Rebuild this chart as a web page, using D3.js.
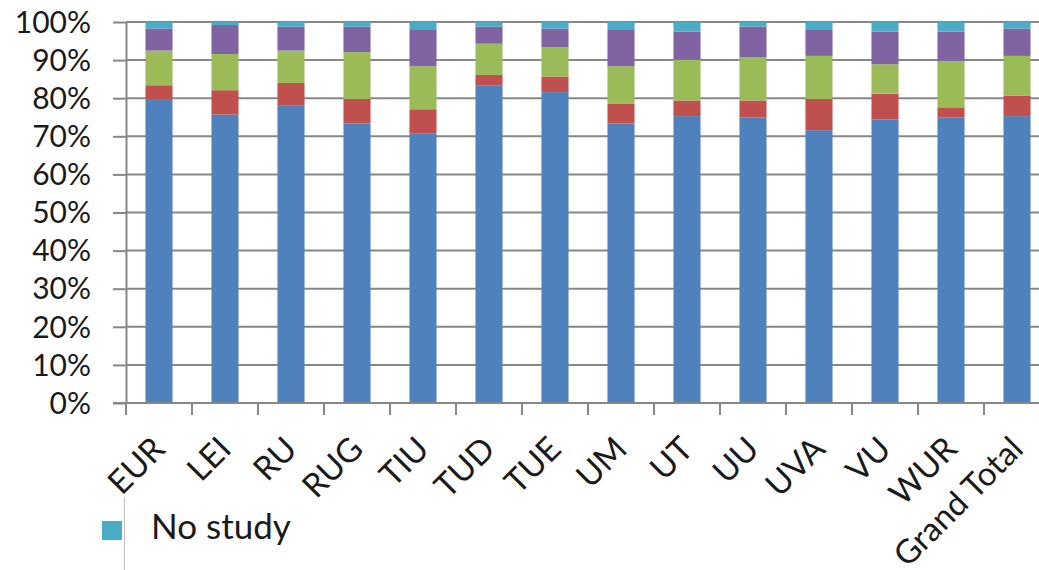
<!DOCTYPE html>
<html>
<head>
<meta charset="utf-8">
<script src="https://cdn.jsdelivr.net/npm/d3@7"></script>
<style>
  html, body { margin: 0; padding: 0; background: #fff; }
  svg { display: block; }
  text { font-family: Lato, "Liberation Sans", sans-serif; fill: #1a1a1a; }
</style>
</head>
<body>
<svg id="chart" width="1039" height="570"></svg>
<script>
// ---- data (percent of each bar) ----
const categories = ["EUR","LEI","RU","RUG","TIU","TUD","TUE","UM","UT","UU","UVA","VU","WUR","Grand Total"];
const series1 = [79.8, 75.7, 78.0, 73.4, 70.8, 83.4, 81.6, 73.4, 75.3, 74.9, 71.6, 74.4, 74.9, 75.3]; // blue
const series2 = [ 3.6,  6.4,  6.0,  6.4,  6.3,  2.7,  4.1,  5.1,  4.1,  4.5,  8.2,  6.8,  2.7,  5.4]; // red
const series3 = [ 9.1,  9.5,  8.5, 12.3, 11.3,  8.2,  7.7,  9.9, 10.7, 11.3, 11.3,  7.7, 12.2, 10.4]; // green
const series4 = [ 5.8,  7.6,  6.3,  6.7,  9.5,  4.5,  4.9,  9.5,  7.4,  8.1,  6.8,  8.6,  7.7,  7.2]; // purple
const noStudy = [ 1.7,  0.8,  1.2,  1.2,  2.1,  1.2,  1.7,  2.1,  2.5,  1.2,  2.1,  2.5,  2.5,  1.7]; // teal
const seriesKeys = ["s1","s2","s3","s4","noStudy"];
const seriesColors = ["#4F81BD","#C0504D","#9BBB59","#8064A2","#4BACC6"];
const yTicks = [0,10,20,30,40,50,60,70,80,90,100];
const legendLabels = ["No study"];

// ---- build table ----
const rows = categories.map((c, i) => ({
  cat: c, s1: series1[i], s2: series2[i], s3: series3[i], s4: series4[i], noStudy: noStudy[i]
}));

const svg = d3.select("#chart");
const mLeft = 126, mRight = 1050, mTop = 22, mBottom = 403;

const x = d3.scaleBand().domain(categories).range([mLeft, mRight])
  .paddingInner(0.59).paddingOuter(0.295);
const y = d3.scaleLinear().domain([0, 100]).range([mBottom, mTop]);

const axisColor = "#878787";

// gridlines
svg.append("g").selectAll("line").data(yTicks.filter(d => d > 0)).join("line")
  .attr("x1", mLeft).attr("x2", mRight)
  .attr("y1", d => y(d)).attr("y2", d => y(d))
  .attr("stroke", axisColor).attr("stroke-width", 2);

// stacked bars
const stack = d3.stack().keys(seriesKeys).order(d3.stackOrderNone).offset(d3.stackOffsetExpand);
const stacked = stack(rows);
svg.append("g").selectAll("g").data(stacked).join("g")
  .attr("fill", (d, i) => seriesColors[i])
  .selectAll("rect").data(d => d).join("rect")
  .attr("x", d => x(d.data.cat))
  .attr("width", x.bandwidth())
  .attr("y", d => y(d[1] * 100))
  .attr("height", d => y(d[0] * 100) - y(d[1] * 100));

// y axis
const yAxis = d3.axisLeft(y).tickValues(yTicks).tickFormat(d => d + "%").tickSizeInner(13).tickSizeOuter(0).tickPadding(22);
const gy = svg.append("g").attr("transform", `translate(${mLeft},0)`).call(yAxis);
gy.select(".domain").attr("stroke", axisColor).attr("stroke-width", 2);
gy.selectAll(".tick line").attr("stroke", axisColor).attr("stroke-width", 2);
gy.selectAll(".tick text").attr("font-size", 30).attr("font-family", "Lato").attr("fill", "#1a1a1a").attr("dy", "0.34em");

// x axis line
svg.append("line").attr("x1", mLeft - 13).attr("x2", mRight)
  .attr("y1", mBottom).attr("y2", mBottom)
  .attr("stroke", axisColor).attr("stroke-width", 2);

// x ticks at band boundaries
const boundaries = d3.range(categories.length + 1).map(i => x.range()[0] + i * x.step());
svg.append("g").selectAll("line").data(boundaries).join("line")
  .attr("x1", d => d).attr("x2", d => d)
  .attr("y1", mBottom).attr("y2", mBottom + 12)
  .attr("stroke", axisColor).attr("stroke-width", 2);

// x labels rotated -45
svg.append("g").selectAll("text").data(categories).join("text")
  .attr("transform", d => `translate(${x(d) + x.bandwidth() / 2 + 8},${mBottom + 48}) rotate(-45)`)
  .attr("text-anchor", "end")
  .attr("font-size", 33)
  .text(d => d);

// legend (partially visible)
svg.append("line").attr("x1", 124.5).attr("x2", 124.5).attr("y1", 497).attr("y2", 570)
  .attr("stroke", "#c0c0c0").attr("stroke-width", 1);
const lg = svg.append("g").selectAll("g").data(legendLabels).join("g");
lg.append("rect").attr("x", 102).attr("y", 521).attr("width", 20).attr("height", 19)
  .attr("fill", seriesColors[4]);
lg.append("text").attr("x", 151).attr("y", 539).attr("font-size", 35).text(d => d);
</script>
</body>
</html>
